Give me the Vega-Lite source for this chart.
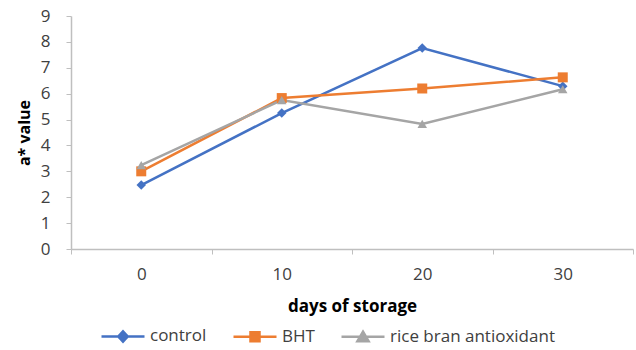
{
  "$schema": "https://vega.github.io/schema/vega-lite/v6.json",
  "width": 562,
  "height": 233,
  "autosize": {"type": "none"},
  "padding": {"left": 71, "top": 16, "right": 3, "bottom": 101},
  "background": "white",
  "config": {
    "font": "Open Sans",
    "view": {"stroke": null},
    "axis": {
      "grid": false,
      "domainColor": "#BFBFBF",
      "domainWidth": 1.5,
      "tickColor": "#BFBFBF",
      "tickSize": 5,
      "labelColor": "#404040",
      "labelFontSize": 17,
      "titleColor": "#000000",
      "titleFontSize": 16,
      "titleFontWeight": "bold"
    }
  },
  "data": {
    "values": [
      {"day": "0", "series": "control", "value": 2.47},
      {"day": "10", "series": "control", "value": 5.25},
      {"day": "20", "series": "control", "value": 7.76},
      {"day": "30", "series": "control", "value": 6.29},
      {"day": "0", "series": "BHT", "value": 3.0},
      {"day": "10", "series": "BHT", "value": 5.83},
      {"day": "20", "series": "BHT", "value": 6.2},
      {"day": "30", "series": "BHT", "value": 6.63},
      {"day": "0", "series": "rice bran antioxidant", "value": 3.24},
      {"day": "10", "series": "rice bran antioxidant", "value": 5.75},
      {"day": "20", "series": "rice bran antioxidant", "value": 4.83},
      {"day": "30", "series": "rice bran antioxidant", "value": 6.17}
    ]
  },
  "encoding": {
    "x": {
      "field": "day",
      "type": "ordinal",
      "sort": ["0", "10", "20", "30"],
      "scale": {"type": "band", "paddingInner": 0, "paddingOuter": 0},
      "axis": {
        "labelAngle": 0,
        "tickBand": "extent",
        "labelPadding": 12,
        "title": "days of storage",
        "titlePadding": 16,
        "titleFontSize": 17
      }
    },
    "y": {
      "field": "value",
      "type": "quantitative",
      "scale": {"domain": [0, 9], "nice": false},
      "axis": {
        "values": [0, 1, 2, 3, 4, 5, 6, 7, 8, 9],
        "labelPadding": 16,
        "title": "a* value",
        "titlePadding": 8
      }
    },
    "color": {
      "field": "series",
      "type": "nominal",
      "sort": ["control", "BHT", "rice bran antioxidant"],
      "scale": {
        "domain": ["control", "BHT", "rice bran antioxidant"],
        "range": ["#4472C4", "#ED7D31", "#A5A5A5"]
      },
      "legend": {
        "orient": "none",
        "legendX": 29,
        "legendY": 297,
        "direction": "horizontal",
        "title": null,
        "symbolSize": 1849,
        "symbolStrokeWidth": 2.5,
        "symbolOpacity": 1,
        "labelFontSize": 17,
        "labelColor": "#404040",
        "labelLimit": 400,
        "labelOffset": 4,
        "columnPadding": 21,
        "encode": {
          "symbols": {
            "update": {
              "shape": {"signal": "datum.value === 'control' ? 'M-1,0H1M0,-0.24L0.22,0L0,0.24L-0.22,0Z' : datum.value === 'BHT' ? 'M-1,0H1M-0.21,-0.21H0.21V0.21H-0.21Z' : 'M-1,0H1M0,-0.24L0.26,0.2L-0.26,0.2Z'"},
              "fill": {"signal": "scale('color', datum.value)"},
              "stroke": {"signal": "scale('color', datum.value)"},
              "strokeWidth": {"value": 2.5},
              "size": {"value": 1849},
              "opacity": {"value": 1}
            }
          }
        }
      }
    }
  },
  "layer": [
    {
      "mark": {"type": "line", "strokeWidth": 2.5}
    },
    {
      "transform": [{"filter": "datum.series === 'control'"}],
      "mark": {"type": "point", "filled": true, "opacity": 1, "shape": "diamond", "size": 90}
    },
    {
      "transform": [{"filter": "datum.series === 'BHT'"}],
      "mark": {"type": "point", "filled": true, "opacity": 1, "shape": "square", "size": 100}
    },
    {
      "transform": [{"filter": "datum.series === 'rice bran antioxidant'"}],
      "mark": {"type": "point", "filled": true, "opacity": 1, "shape": "triangle-up", "size": 90}
    }
  ]
}
